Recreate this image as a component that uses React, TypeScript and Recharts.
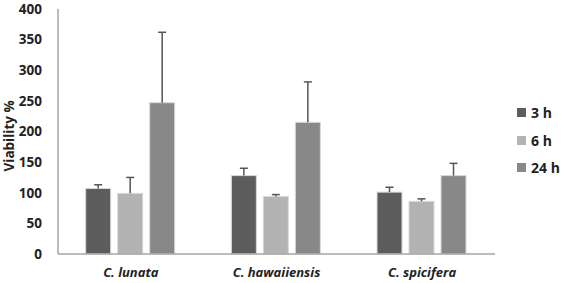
import React from 'react'
import { BarChart, Bar, XAxis, YAxis } from 'recharts'

const SPECIES = ['C. lunata', 'C. hawaiiensis', 'C. spicifera']
const H3 = [107, 128, 101]
const H6 = [99, 94, 86]
const H24 = [247, 215, 128]
const H3_ERR = [6, 12, 8]
const H6_ERR = [26, 3, 4]
const H24_ERR = [115, 66, 20]
const Y_TICKS = [0, 50, 100, 150, 200, 250, 300, 350, 400]

const SERIES = [
  { key: 'h3', name: '3 h', color: '#5d5d5d' },
  { key: 'h6', name: '6 h', color: '#b3b3b3' },
  { key: 'h24', name: '24 h', color: '#888888' },
]

const data = SPECIES.map((s, i) => ({
  species: s,
  h3: H3[i],
  h6: H6[i],
  h24: H24[i],
  h3Err: H3_ERR[i],
  h6Err: H6_ERR[i],
  h24Err: H24_ERR[i],
}))

const FONT = '"Open Sans", "Liberation Sans", sans-serif'

// bar with an upward-only error whisker, scaled by the bar's own px/unit
const barWithErr = (errKey: string) => (props: any) => {
  const { x, y, width, height, fill, value, payload } = props
  const v = Array.isArray(value) ? value[1] - value[0] : value
  const err = payload[errKey]
  const len = v ? (err * height) / v : 0
  const cx = x + width / 2
  return (
    <g>
      <rect x={x} y={y} width={width} height={height} fill={fill} stroke="#d9d9d9" strokeWidth={1} />
      <line x1={cx} x2={cx} y1={y} y2={y - len} stroke="#555" strokeWidth={1.5} />
      <line x1={cx - 4} x2={cx + 4} y1={y - len} y2={y - len} stroke="#555" strokeWidth={1.5} />
    </g>
  )
}

export default function App() {
  return (
    <div style={{ position: 'absolute', left: 0, top: 0, width: 561, height: 283, background: '#fff' }}>
      <BarChart
        width={561}
        height={283}
        data={data}
        margin={{ top: 9, right: 66, left: 0, bottom: 0 }}
        barCategoryGap="19%"
        barGap={7}
      >
        <YAxis
          width={58}
          domain={[0, 400]}
          ticks={Y_TICKS}
          interval={0}
          tickLine={false}
          axisLine={{ stroke: '#a6a6a6', strokeWidth: 1.5 }}
          tick={{ fill: '#222', fontSize: 13.5, fontWeight: 700, fontFamily: FONT }}
          tickMargin={10}
          label={{
            value: 'Viability %',
            angle: -90,
            position: 'insideLeft',
            dx: 4,
            dy: 40,
            style: { fill: '#222', fontSize: 13.5, fontWeight: 700, fontFamily: FONT },
          }}
        />
        <XAxis
          dataKey="species"
          height={29}
          tickLine={false}
          axisLine={{ stroke: '#a6a6a6', strokeWidth: 1.5 }}
          tick={{ fill: '#222', fontSize: 13, fontWeight: 700, fontStyle: 'italic', fontFamily: FONT }}
          tickMargin={8}
        />
        {SERIES.map((s) => (
          <Bar
            key={s.key}
            dataKey={s.key}
            name={s.name}
            fill={s.color}
            shape={barWithErr(`${s.key}Err`)}
            isAnimationActive={false}
          />
        ))}
      </BarChart>
      <div
        style={{
          position: 'absolute',
          left: 517,
          top: 99,
          fontFamily: FONT,
          fontWeight: 700,
          fontSize: 14,
          color: '#222',
        }}
      >
        {SERIES.map((s) => (
          <div key={s.key} style={{ display: 'flex', alignItems: 'center', height: 27.5 }}>
            <span style={{ width: 9, height: 9, background: s.color, marginRight: 5, display: 'inline-block' }} />
            {s.name}
          </div>
        ))}
      </div>
    </div>
  )
}
